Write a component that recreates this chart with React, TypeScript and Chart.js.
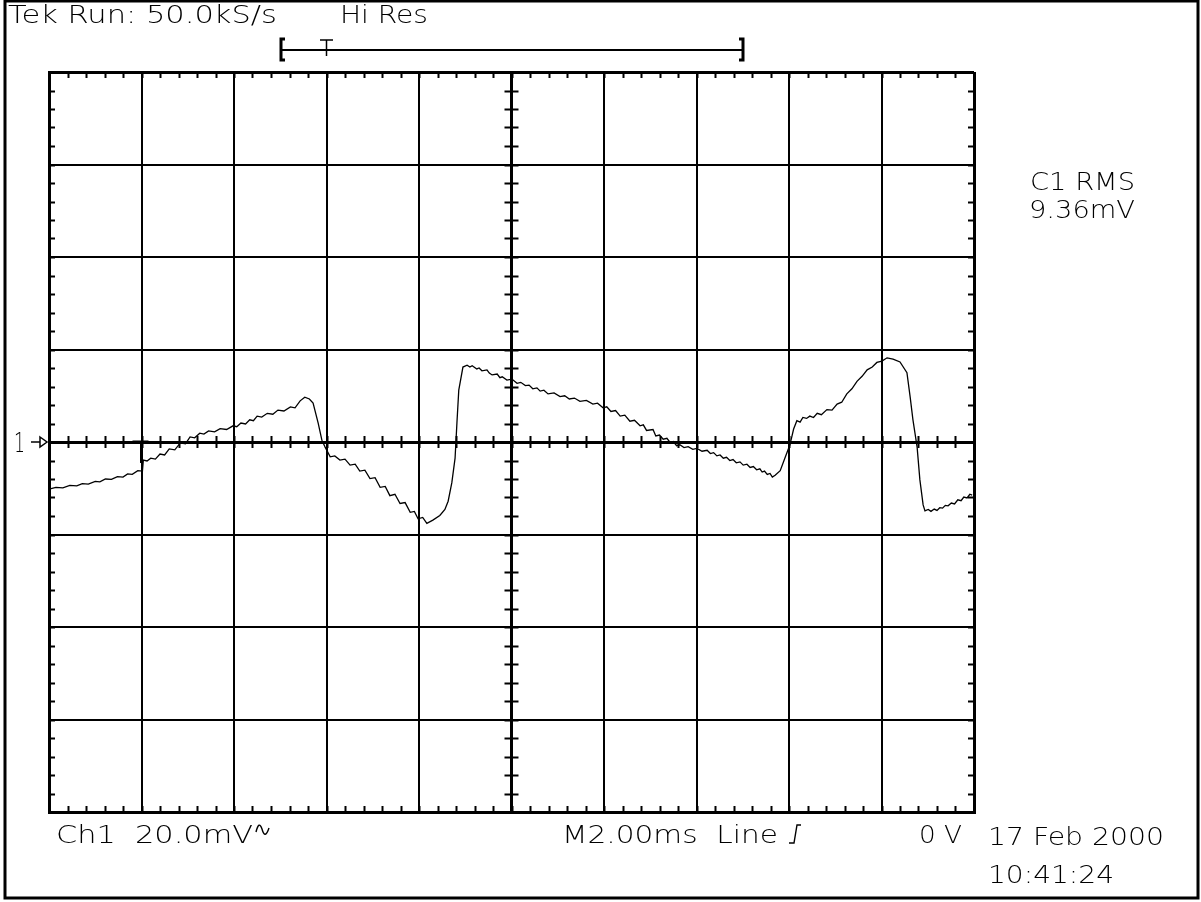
import React, { useEffect, useRef } from "react";
import { Chart, registerables } from "chart.js";

Chart.register(...registerables);

// Time axis in ms (2.00 ms/div, 10 divisions)
const timeMs: number[] = [
  0, 0.15, 0.3, 0.45, 0.6, 0.72, 0.85, 1.0, 1.1, 1.22, 1.35, 1.48, 1.6, 1.7, 1.8, 1.92, 2.02, 2.04, 2.12, 2.2, 2.3,
  2.4, 2.5, 2.6, 2.72, 2.84, 2.95, 3.05, 3.15, 3.26, 3.35, 3.45, 3.58, 3.7, 3.84, 3.98, 4.06, 4.15, 4.25, 4.34,
  4.42, 4.5, 4.6, 4.72, 4.84, 4.95, 5.08, 5.22, 5.32, 5.43, 5.53, 5.63, 5.71, 5.82, 5.9, 5.97, 6.08, 6.18, 6.29,
  6.4, 6.51, 6.62, 6.72, 6.83, 6.94, 7.05, 7.16, 7.27, 7.37, 7.48, 7.59, 7.7, 7.81, 7.9, 7.98, 8.08, 8.17, 8.3,
  8.45, 8.56, 8.63, 8.71, 8.78, 8.82, 8.86, 8.95, 9.04, 9.1, 9.15, 9.25, 9.3, 9.36, 9.47, 9.52, 9.58, 9.69, 9.75,
  9.8, 9.9, 10.01, 10.12, 10.2, 10.3, 10.38, 10.46, 10.55, 10.62, 10.7, 10.79, 10.92, 11.05, 11.15, 11.25, 11.36,
  11.48, 11.62, 11.76, 11.86, 11.98, 12.06, 12.15, 12.25, 12.35, 12.45, 12.56, 12.66, 12.78, 12.85, 12.92, 13.06,
  13.12, 13.2, 13.28, 13.36, 13.43, 13.5, 13.57, 13.64, 13.73, 13.82, 13.92, 14.01, 14.12, 14.23, 14.3, 14.37,
  14.44, 14.51, 14.58, 14.65, 14.72, 14.79, 14.86, 14.94, 15.01, 15.09, 15.16, 15.23, 15.3, 15.37, 15.42, 15.47,
  15.53, 15.59, 15.64, 15.7, 15.81, 15.91, 16.02, 16.1, 16.17, 16.24, 16.3, 16.38, 16.45, 16.53, 16.61, 16.7,
  16.82, 16.93, 17.04, 17.14, 17.25, 17.36, 17.47, 17.58, 17.69, 17.8, 17.9, 18.01, 18.12, 18.25, 18.4, 18.55,
  18.62, 18.68, 18.77, 18.83, 18.9, 18.94, 19.01, 19.07, 19.14, 19.2, 19.26, 19.32, 19.38, 19.44, 19.51, 19.58,
  19.65, 19.72, 19.78, 19.85, 19.91, 19.96,
];

// Channel 1 voltage in mV (20.0 mV/div, 8 divisions)
const ch1mV: number[] = [
  -10.2, -9.8, -9.9, -9.4, -9.5, -9.0, -9.1, -8.5, -8.6, -8.0, -8.1, -7.5, -7.6, -6.9, -7.0, -6.2, -6.3, -3.9, -4.1, -3.5, -3.7,
  -2.6, -2.8, -1.5, -1.7, -0.2, -0.4, 1.1, 0.9, 1.9, 1.7, 2.4, 2.2, 2.9, 2.7, 3.5, 3.3, 4.1, 3.9, 4.8,
  4.6, 5.6, 5.4, 6.2, 6.0, 6.9, 6.7, 7.6, 7.4, 8.9, 9.7, 9.3, 8.4, 4.1, 0.4, -1.1, -3.2, -3.0, -3.9,
  -3.7, -5.0, -4.8, -6.3, -6.1, -7.9, -7.7, -9.8, -9.6, -11.6, -11.3, -13.3, -13.1, -15.2, -15.0, -16.6, -16.3, -17.6, -16.9,
  -15.9, -14.6, -12.8, -8.8, -3.5, 4.1, 11.2, 16.2, 16.6, 16.2, 16.5, 15.8, 16.0, 15.4, 15.6, 14.9, 14.5, 14.7, 13.9,
  14.1, 13.4, 13.6, 12.7, 12.9, 12.2, 12.3, 11.5, 11.7, 11.0, 11.2, 10.4, 10.6, 9.8, 10.0, 9.3, 9.5, 8.8,
  9.0, 8.2, 8.4, 7.4, 7.6, 6.6, 6.8, 5.6, 5.8, 4.5, 4.7, 3.5, 3.7, 2.5, 2.7, 1.3,
  1.5, 0.6, 0.8, -0.1, 0.1, -0.8, -0.6, -1.2, -1.0, -1.6, -1.4, -2.0, -1.8, -2.5, -2.3, -3.0,
  -2.8, -3.5, -3.3, -4.0, -3.8, -4.5, -4.3, -5.0, -4.8, -5.5, -5.3, -6.0, -5.8, -6.5, -6.3, -7.0,
  -6.8, -7.6, -7.2, -6.2, -3.5, -0.6, 2.8, 4.6, 4.3, 5.3, 5.1, 5.6, 5.3, 6.2, 5.9, 7.0,
  6.9, 8.2, 8.6, 10.4, 11.5, 13.1, 14.2, 15.6, 16.2, 17.2, 17.5, 18.2, 17.9, 17.3, 15.0, 9.7,
  4.8, -1.1, -8.2, -13.6, -14.9, -14.6, -15.0, -14.5, -14.8, -14.2, -14.3, -13.7, -13.8, -13.2, -13.4, -12.5,
  -12.7, -11.9, -12.1, -11.3, -11.5, -10.8,
];

const X_MIN = 0;
const X_MAX = 20;
const X_DIV = 2;
const Y_MIN = -80;
const Y_MAX = 80;
const Y_DIV = 20;
const MINOR_PER_DIV = 5;

const headerText = "Tek Run: 50.0kS/s";
const modeText = "Hi Res";
const measLabel = "C1 RMS";
const measValue = "9.36mV";
const ch1Text = "Ch1  20.0mV";
const timebaseText = "M2.00ms  Line";
const levelText = "0 V";
const dateText = "17 Feb 2000";
const timeText = "10:41:24";

const FONT = "200 24px 'DejaVu Sans'";

function stretchText(ctx: CanvasRenderingContext2D, text: string, x: number, y: number, width: number) {
  const w = ctx.measureText(text).width;
  ctx.save();
  ctx.translate(x, y);
  ctx.scale(width / w, 1);
  ctx.textAlign = "left";
  ctx.fillText(text, 0, 0);
  ctx.restore();
}

const scopePlugin = {
  id: "scopeDecor",
  afterDatasetsDraw(chart: any) {
    const ctx = chart.ctx as CanvasRenderingContext2D;
    const xs = chart.scales.x;
    const ys = chart.scales.y;
    const ca = chart.chartArea;
    ctx.save();
    ctx.strokeStyle = "#000";
    ctx.fillStyle = "#000";

    // minor ticks
    ctx.lineWidth = 2;
    ctx.beginPath();
    const xStep = X_DIV / MINOR_PER_DIV;
    const yStep = Y_DIV / MINOR_PER_DIV;
    const xc = xs.getPixelForValue((X_MIN + X_MAX) / 2);
    const yc = ys.getPixelForValue((Y_MIN + Y_MAX) / 2);
    for (let v = X_MIN + xStep; v < X_MAX - 1e-6; v += xStep) {
      const px = Math.round(xs.getPixelForValue(v)) + 0.5;
      ctx.moveTo(px, ca.top);
      ctx.lineTo(px, ca.top + 6);
      ctx.moveTo(px, ca.bottom);
      ctx.lineTo(px, ca.bottom - 6);
      ctx.moveTo(px, yc - 6);
      ctx.lineTo(px, yc + 6);
    }
    for (let v = Y_MIN + yStep; v < Y_MAX - 1e-6; v += yStep) {
      const py = Math.round(ys.getPixelForValue(v)) + 0.5;
      ctx.moveTo(ca.left, py);
      ctx.lineTo(ca.left + 6, py);
      ctx.moveTo(ca.right, py);
      ctx.lineTo(ca.right - 6, py);
      ctx.moveTo(xc - 7, py);
      ctx.lineTo(xc + 7, py);
    }
    ctx.stroke();

    // trigger position marker on the center line
    const tx = xs.getPixelForValue(2);
    ctx.lineWidth = 3;
    ctx.beginPath();
    ctx.moveTo(tx - 9, yc);
    ctx.lineTo(tx + 7, yc);
    ctx.moveTo(tx, yc);
    ctx.lineTo(tx, yc + 21);
    ctx.stroke();

    // ground reference "1 ->"
    ctx.font = "200 26px 'DejaVu Sans'";
    ctx.textBaseline = "alphabetic";
    stretchText(ctx, "1", 14, yc + 10, 11);
    ctx.font = FONT;
    ctx.lineWidth = 1.5;
    ctx.beginPath();
    ctx.moveTo(31, yc);
    ctx.lineTo(40, yc);
    ctx.moveTo(40, yc - 5);
    ctx.lineTo(47, yc);
    ctx.lineTo(40, yc + 5);
    ctx.closePath();
    ctx.stroke();

    // record bracket at top
    ctx.lineWidth = 2;
    ctx.beginPath();
    ctx.moveTo(281, 50);
    ctx.lineTo(743, 50);
    ctx.stroke();
    ctx.lineWidth = 3;
    ctx.beginPath();
    ctx.moveTo(285, 39);
    ctx.lineTo(281, 39);
    ctx.lineTo(281, 60);
    ctx.lineTo(285, 60);
    ctx.moveTo(739, 39);
    ctx.lineTo(743, 39);
    ctx.lineTo(743, 60);
    ctx.lineTo(739, 60);
    ctx.stroke();
    ctx.lineWidth = 1.5;
    ctx.beginPath();
    ctx.moveTo(320, 40);
    ctx.lineTo(333, 40);
    ctx.moveTo(326.5, 40);
    ctx.lineTo(326.5, 56);
    ctx.stroke();

    // texts (stretched to the wide instrument font)
    stretchText(ctx, headerText, 8, 23, 269);
    stretchText(ctx, modeText, 340, 23, 88);
    stretchText(ctx, measLabel, 1030, 190, 105);
    stretchText(ctx, measValue, 1029, 218, 106);
    stretchText(ctx, ch1Text, 56, 843, 197);
    stretchText(ctx, timebaseText, 562, 843, 216);
    stretchText(ctx, levelText, 919, 843, 43);
    stretchText(ctx, dateText, 988, 845, 176);
    stretchText(ctx, timeText, 988, 883, 126);

    // AC coupling symbol after "20.0mV"
    ctx.lineWidth = 1.4;
    ctx.beginPath();
    ctx.moveTo(256, 832);
    ctx.quadraticCurveTo(259, 820, 262, 829);
    ctx.quadraticCurveTo(265, 840, 269, 828);
    ctx.stroke();

    // rising-edge trigger slope symbol after "Line"
    ctx.beginPath();
    ctx.moveTo(789, 843);
    ctx.lineTo(794, 843);
    ctx.lineTo(797, 825);
    ctx.lineTo(801, 825);
    ctx.stroke();

    // outer frame
    ctx.lineWidth = 3;
    ctx.strokeRect(5, 1, 1193, 897);
    ctx.restore();
  },
};

export default function App() {
  const canvasRef = useRef<HTMLCanvasElement | null>(null);

  useEffect(() => {
    document.body.style.margin = "0";
    const canvas = canvasRef.current;
    if (!canvas) return;
    const points = timeMs.map((t, i) => ({ x: t, y: ch1mV[i] }));
    const chart = new Chart(canvas, {
      type: "line",
      data: {
        datasets: [
          {
            label: "Ch1",
            data: points,
            borderColor: "#000",
            borderWidth: 1.3,
            pointRadius: 0,
            tension: 0,
            fill: false,
          },
        ],
      },
      options: {
        animation: false,
        responsive: false,
        devicePixelRatio: 1,
        layout: { padding: { left: 49, top: 72, right: 227, bottom: 90 } },
        plugins: {
          legend: { display: false },
          tooltip: { enabled: false },
          title: { display: false },
        },
        scales: {
          x: {
            type: "linear",
            min: X_MIN,
            max: X_MAX,
            ticks: { display: false, stepSize: X_DIV },
            grid: {
              color: "#000",
              lineWidth: (ctx: any) => {
                const v = ctx.tick ? ctx.tick.value : 0;
                return v === 10 || v === 0 || v === 20 ? 3 : 2;
              },
              drawTicks: false,
            },
            border: { display: true, color: "#000", width: 3 },
          },
          y: {
            type: "linear",
            min: Y_MIN,
            max: Y_MAX,
            ticks: { display: false, stepSize: Y_DIV },
            grid: {
              color: "#000",
              lineWidth: (ctx: any) => {
                const v = ctx.tick ? ctx.tick.value : 0;
                return v === 0 || v === -80 || v === 80 ? 3 : 2;
              },
              drawTicks: false,
            },
            border: { display: true, color: "#000", width: 3 },
          },
        },
      },
      plugins: [scopePlugin],
    });
    return () => chart.destroy();
  }, []);

  return (
    <div style={{ position: "absolute", left: 0, top: 0, width: 1201, height: 902, background: "#fff" }}>
      <canvas ref={canvasRef} width={1201} height={902} style={{ display: "block" }} />
    </div>
  );
}
